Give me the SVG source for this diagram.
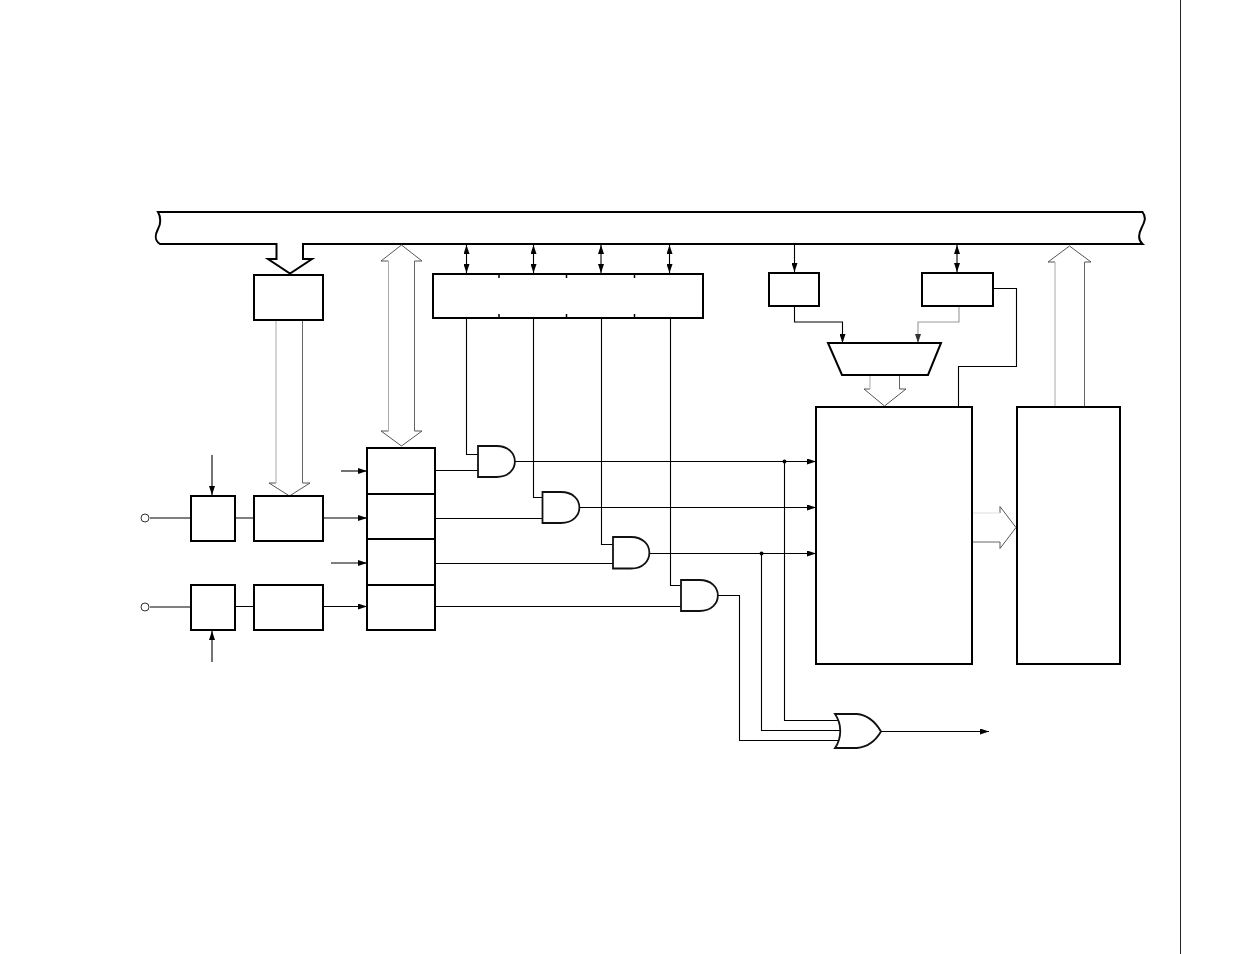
<svg xmlns="http://www.w3.org/2000/svg" width="1235" height="954" viewBox="0 0 1235 954">
<style>
.box{fill:#fff;stroke:#000;stroke-width:2}
.w{fill:none;stroke:#000;stroke-width:1.1}
.g{fill:none;stroke:#999;stroke-width:1.1}
.head{fill:#fff;stroke:#555;stroke-width:1}
.lt{fill:none;stroke:#aaa;stroke-width:1}
.dk{fill:none;stroke:#666;stroke-width:1}
.gate{fill:#fff;stroke:#111;stroke-width:1.800}
</style>
<defs>
<marker id="a" markerUnits="userSpaceOnUse" markerWidth="9" markerHeight="6" refX="9" refY="3" orient="auto-start-reverse" viewBox="0 0 9 6"><path d="M0 0L9 3L0 6z" fill="#000"/></marker>
<marker id="ag" markerUnits="userSpaceOnUse" markerWidth="9" markerHeight="6" refX="9" refY="3" orient="auto" viewBox="0 0 9 6"><path d="M0 0L9 3L0 6z" fill="#333"/></marker>
</defs>
<rect width="1235" height="954" fill="#fff"/>
<path d="M1180.500 0V954" stroke="#222" stroke-width="1" fill="none"/>

<g id="connectors">
<path class="w" d="M150 518H191M235 518H254M150 607H191M235 606.500H254"/>
<path class="w" d="M212 455V495" marker-end="url(#a)"/>
<path class="w" d="M212 662V631" marker-end="url(#a)"/>
<path class="w" d="M341 471H367" marker-end="url(#a)"/>
<path class="w" d="M323 518H367" marker-end="url(#a)"/>
<path class="w" d="M331 563H367" marker-end="url(#a)"/>
<path class="w" d="M323 606.500H367" marker-end="url(#a)"/>
<path class="w" d="M466.500 245V273" marker-start="url(#a)" marker-end="url(#a)"/>
<path class="w" d="M533.500 245V273" marker-start="url(#a)" marker-end="url(#a)"/>
<path class="w" d="M601 245V273" marker-start="url(#a)" marker-end="url(#a)"/>
<path class="w" d="M669.500 245V273" marker-start="url(#a)" marker-end="url(#a)"/>
<path class="w" d="M794.500 244V272" marker-end="url(#a)"/>
<path class="w" d="M957 245V272" marker-start="url(#a)" marker-end="url(#a)"/>
<path class="w" d="M794.500 306V322H842.500V343" marker-end="url(#a)"/>
<path class="g" d="M959 306V322H918V343" marker-end="url(#ag)"/>
<path class="w" d="M993 288.500H1016.500V366.500H958.500V407"/>
<path class="w" d="M466.500 318V454.500H478"/>
<path class="w" d="M533.500 318V497.500H543"/>
<path class="w" d="M601.500 318V544.500H613"/>
<path class="w" d="M670.500 318V585.500H681"/>
<path class="w" d="M435 470.500H478M435 518.500H543M435 563.500H613M435 606.500H681"/>
<path class="w" d="M515 461.500H816" marker-end="url(#a)"/>
<path class="w" d="M579 507.500H816" marker-end="url(#a)"/>
<path class="w" d="M650 553.500H816" marker-end="url(#a)"/>
<path class="w" d="M784.500 461.500V720.500H838"/>
<path class="w" d="M761.500 553.500V730.500H840"/>
<path class="w" d="M718 595.500H739.500V740.500H838"/>
<path class="w" d="M881 731.500H989" marker-end="url(#a)"/>
<circle cx="784.500" cy="461.500" r="2" fill="#000"/>
<circle cx="761.500" cy="553.500" r="2" fill="#000"/>
</g>

<g id="bus-main"><path d="M158 212H1142.500C1147 218 1144 223 1141.500 228C1138.500 234 1138 240 1142.500 244H303V259H312L290 273.500L268 259H276.500V244H160C154 240 155 235 158 229C161 224 161 217 158 212Z" fill="#fff" stroke="#000" stroke-width="2"/></g>

<g id="bus-arrows">
<g id="bus-arrow-1"><path class="head" d="M276 483H269L289.500 496L310 483H302.500" fill="#fff"/><path class="lt" d="M276 321V483"/><path class="dk" d="M302.500 321V483"/></g>
<g id="bus-arrow-2"><path class="head" d="M388.500 261H381L401.500 245L422 261H414.500M388.500 431H381L401.500 446L422 431H414.500"/><path class="lt" d="M388.500 261V431"/><path class="dk" d="M414.500 261V431"/></g>
<g id="bus-arrow-3"><path class="head" d="M870 389H864L884.500 406L906 389H899.500"/><path class="lt" d="M870 375V389"/><path class="dk" d="M899.500 375V389"/></g>
<g id="bus-arrow-4"><path class="head" d="M1055 262H1048L1069.500 246L1091 262H1084.500"/><path class="lt" d="M1055 407V262"/><path class="dk" d="M1084.500 407V262"/></g>
<g id="bus-arrow-5"><path class="head" d="M1000 513V506.500L1016 527.500L1000 548.500V542"/><path d="M973 513H1000" fill="none" stroke="#ddd" stroke-width="1"/><path class="dk" d="M973 542H1000"/></g>
</g>

<g id="pin-1"><circle cx="145" cy="518" r="4" fill="#fff" stroke="#333" stroke-width="1"/></g>
<g id="pin-2"><circle cx="145" cy="607" r="4" fill="#fff" stroke="#333" stroke-width="1"/></g>
<g id="block-a"><rect class="box" x="254" y="275" width="69" height="45"/></g>
<g id="block-b"><rect class="box" x="191" y="496" width="44" height="45"/></g>
<g id="block-c"><rect class="box" x="254" y="496" width="69" height="45"/></g>
<g id="block-d"><rect class="box" x="191" y="585" width="44" height="45"/></g>
<g id="block-e"><rect class="box" x="254" y="585" width="69" height="45"/></g>
<g id="stack">
<rect class="box" x="367" y="448" width="68" height="46"/>
<rect class="box" x="367" y="494" width="68" height="45"/>
<rect class="box" x="367" y="539" width="68" height="46"/>
<rect class="box" x="367" y="585" width="68" height="45"/>
</g>
<g id="register">
<rect class="box" x="433" y="274" width="270" height="44"/>
<path d="M499 274v4M566.500 274v4M634.500 274v4M499 318v-4M566.500 318v-4M634.500 318v-4" stroke="#000" stroke-width="1.500" fill="none"/>
</g>
<g id="block-f"><rect class="box" x="769" y="273" width="50" height="33"/></g>
<g id="block-g"><rect class="box" x="922" y="273" width="71" height="33"/></g>
<g id="mux"><path class="box" d="M828 343H941L928 375H842Z"/></g>
<g id="block-h"><rect class="box" x="816" y="407" width="156" height="257"/></g>
<g id="block-i"><rect class="box" x="1017" y="407" width="103" height="257"/></g>
<g id="and-1"><path class="gate" d="M478 446H496.500C521 446 521 477 496.500 477H478Z"/></g>
<g id="and-2"><path class="gate" d="M542.500 492H561C585.500 492 585.500 523 561 523H542.500Z"/></g>
<g id="and-3"><path class="gate" d="M613 537H631C655.500 537 655.500 568.500 631 568.500H613Z"/></g>
<g id="and-4"><path class="gate" d="M681 580H699.500C724 580 724 611 699.500 611H681Z"/></g>
<g id="or-1"><path class="gate" d="M835 714H857C868 715 876 723 881 731.500C876 740 868 747 857 748H835C842 738 842 724 835 714Z"/></g>
</svg>
